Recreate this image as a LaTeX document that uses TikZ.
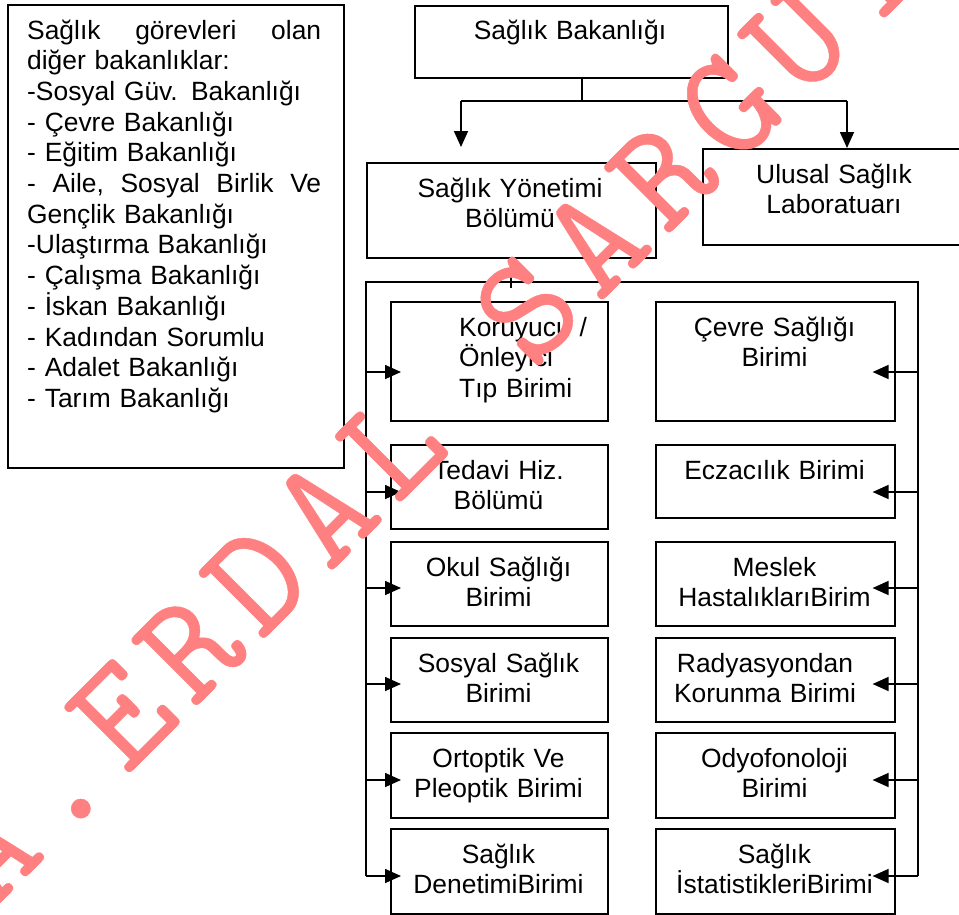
\documentclass[tikz,border=0pt]{standalone}
\usepackage{fontspec}
\setmainfont{Liberation Sans}
\newfontfamily\wmfont[FakeBold=0.3]{lmmono10-regular.otf}
\usetikzlibrary{arrows.meta}
\definecolor{wm}{RGB}{255,128,128}
\newcommand{\lblfont}{\fontsize{26.4}{30.7}\selectfont}
\newcommand{\wmc}[1]{\makebox[95.5pt][c]{#1}}
\begin{document}
\begin{tikzpicture}[x=1pt,y=-1pt,
  box/.style={draw, line width=1.6pt, fill=white, rectangle, inner sep=0pt, anchor=north west},
  lbl/.style={font=\lblfont, inner sep=0pt, align=center, anchor=base},
  wire/.style={line width=1.6pt},
  arr/.style={line width=1.6pt, -{Triangle[length=16pt,width=14pt]}},
  wmark/.style={anchor=base west, rotate=45, inner sep=0pt, text=wm, font=\wmfont\fontsize{154}{154}\selectfont}
]
\useasboundingbox (0,0) rectangle (959,914);
\begin{scope}
\clip (0,0) rectangle (959,914);
% left list box
\node[box, minimum width=336pt, minimum height=463pt] (LB) at (7,4) {};
\node[lbl, align=left, text width=294pt, anchor=base west] (LT) at (27,39) {Sağlık\hfill görevleri\hfill olan\\
diğer bakanlıklar:\\
-Sosyal Güv. Bakanlığı\\
- Çevre Bakanlığı\\
- Eğitim Bakanlığı\\
-\hfill Aile,\hfill Sosyal\hfill Birlik\hfill Ve\\
Gençlik Bakanlığı\\
-Ulaştırma Bakanlığı\\
- Çalışma Bakanlığı\\
- İskan Bakanlığı\\
- Kadından Sorumlu\\
- Adalet Bakanlığı\\
- Tarım Bakanlığı};
% top boxes
\node[box, minimum width=313pt, minimum height=72pt] (TB) at (414,5) {};
\node[lbl, text width=313pt] (TBt) at (570,39) {Sağlık Bakanlığı};
\node[box, minimum width=289pt, minimum height=95pt] (SY) at (366,162) {};
\node[lbl, text width=289pt] (SYt) at (510,197) {Sağlık Yönetimi\\Bölümü};
\node[box, minimum width=280pt, minimum height=96pt] (UL) at (702,148) {};
\node[lbl, text width=280pt] (ULt) at (834,183) {Ulusal Sağlık\\Laboratuarı};
% connectors top
\coordinate (j0) at (582,101);
\coordinate (jl) at (461,101);
\coordinate (jr) at (847,101);
\draw[wire] (TB.south -| j0) -- (j0);
\draw[wire] (jl) -- (jr);
\draw[arr] (jl) -- ([yshift=15pt]jl |- SY.north);
\draw[arr] (jr) -- (jr |- UL.north);
% bus
\coordinate (bt) at (511,282);
\coordinate (busTL) at (366,282);
\coordinate (busTR) at (918,282);
\draw[wire] (SY.south -| bt) -- ([yshift=-6pt]bt);
% left column boxes
\node[box, minimum width=217pt, minimum height=119pt] (L1) at (390,301) {};
\node[box, minimum width=217pt, minimum height=84pt] (L2) at (390,444) {};
\node[box, minimum width=217pt, minimum height=84pt] (L3) at (390,541) {};
\node[box, minimum width=217pt, minimum height=84pt] (L4) at (390,637) {};
\node[box, minimum width=217pt, minimum height=85pt] (L5) at (390,732) {};
\node[box, minimum width=217pt, minimum height=85pt] (L6) at (390,828) {};
% right column boxes
\node[box, minimum width=239pt, minimum height=119pt] (R1) at (655,301) {};
\node[box, minimum width=239pt, minimum height=73pt] (R2) at (655,444) {};
\node[box, minimum width=239pt, minimum height=84pt] (R3) at (655,541) {};
\node[box, minimum width=239pt, minimum height=84pt] (R4) at (655,637) {};
\node[box, minimum width=239pt, minimum height=85pt] (R5) at (655,732) {};
\node[box, minimum width=239pt, minimum height=85pt] (R6) at (655,828) {};
% labels
\node[lbl, align=left, text width=150pt, anchor=base west] (L1t) at (459,336) {Koruyucu /\\Önleyici\\Tıp Birimi};
\node[lbl, text width=217pt] (L2t) at (498.5,479) {Tedavi Hiz.\\Bölümü};
\node[lbl, text width=217pt] (L3t) at (498.5,576) {Okul Sağlığı\\Birimi};
\node[lbl, text width=217pt] (L4t) at (498.5,672) {Sosyal Sağlık\\Birimi};
\node[lbl, text width=217pt] (L5t) at (498.5,767) {Ortoptik Ve\\Pleoptik Birimi};
\node[lbl, text width=217pt] (L6t) at (498.5,863) {Sağlık\\DenetimiBirimi};
\node[lbl, text width=239pt] (R1t) at (774.5,336) {Çevre Sağlığı\\Birimi};
\node[lbl, text width=239pt] (R2t) at (774.5,479) {Eczacılık Birimi};
\node[lbl, text width=239pt] (R3t) at (774.5,576) {Meslek\\HastalıklarıBirim};
\node[lbl, text width=239pt] (R4t) at (765,672) {Radyasyondan\\Korunma Birimi};
\node[lbl, text width=239pt] (R5t) at (774.5,767) {Odyofonoloji\\Birimi};
\node[lbl, text width=239pt] (R6t) at (774.5,863) {Sağlık\\İstatistikleriBirimi};
% bus coordinates
\coordinate (bl1) at (366,372); \coordinate (br1) at (918,372);
\coordinate (bl2) at (366,492); \coordinate (br2) at (918,492);
\coordinate (bl3) at (366,588); \coordinate (br3) at (918,588);
\coordinate (bl4) at (366,684); \coordinate (br4) at (918,684);
\coordinate (bl5) at (366,780); \coordinate (br5) at (918,780);
\coordinate (bl6) at (366,876); \coordinate (br6) at (918,876);
\draw[wire] (bl6) -- (busTL) -- (busTR) -- (br6);
\foreach \i in {1,...,6}{
  \draw[arr] (bl\i) -- ([xshift=11pt]bl\i -| L\i.west);
  \draw[arr] (br\i) -- ([xshift=-23pt]br\i -| R\i.east);
}
% watermark
\node[wmark] (WM) at (-13.8,916.8) {\wmc{A}\wmc{.}\wmc{E}\wmc{R}\wmc{D}\wmc{A}\wmc{L}\wmc{ }\wmc{S}\wmc{A}\wmc{R}\wmc{G}\wmc{U}\wmc{T}\wmc{A}\wmc{N}};
\end{scope}
\end{tikzpicture}
\end{document}
